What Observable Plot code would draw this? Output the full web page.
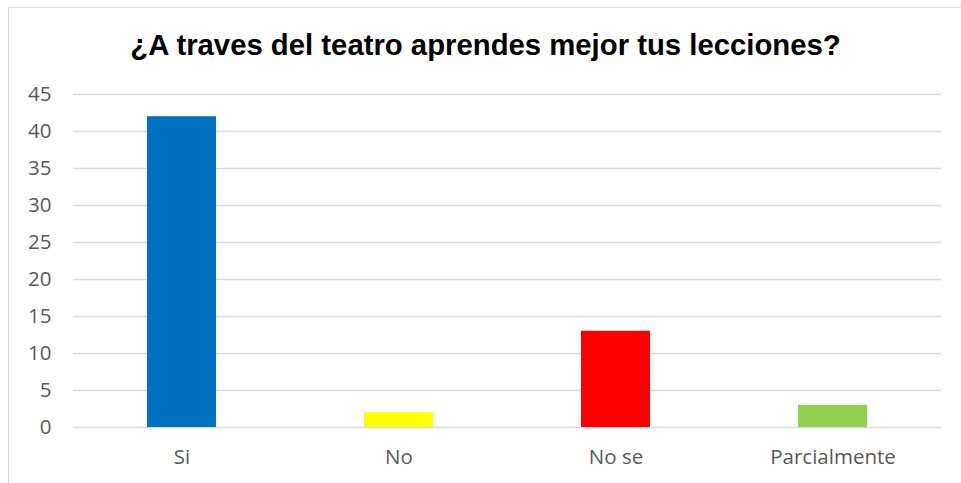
<!DOCTYPE html>
<html><head><meta charset="utf-8">
<script src="https://cdn.jsdelivr.net/npm/d3@7"></script>
<script src="https://cdn.jsdelivr.net/npm/@observablehq/plot@0.6"></script>
<style>
body{margin:0;background:#fff;}
#wrap{position:relative;width:961px;height:483px;overflow:hidden;}
#frame{position:absolute;left:8px;top:7px;width:980px;height:500px;border:1.5px solid #d9d9d9;box-sizing:border-box;}
#title{position:absolute;left:0;top:0;width:961px;height:80px;text-align:center;font-family:"Liberation Sans",Arial,sans-serif;font-weight:bold;font-size:29.3px;line-height:90px;color:#000;margin:0;padding-left:10px;box-sizing:border-box;white-space:nowrap;}
#chart{position:absolute;left:0;top:80px;}
</style></head>
<body>
<div id="wrap"><div id="frame"></div><div id="title">¿A traves del teatro aprendes mejor tus lecciones?</div><div id="chart"></div></div>
<script>
const categories = ["Si", "No", "No se", "Parcialmente"];
const values = [42, 2, 13, 3];
const colors = ["#0070C0", "#FFFF00", "#FF0000", "#92D050"];
const yTicks = [0, 5, 10, 15, 20, 25, 30, 35, 40, 45];

const data = categories.map((c, i) => ({cat: c, value: values[i], color: colors[i]}));

const chart = Plot.plot({
  width: 961,
  height: 403,
  marginLeft: 73,
  marginRight: 20,
  marginTop: 14,
  marginBottom: 56,
  style: {fontFamily: "'Open Sans', 'Liberation Sans', sans-serif", fontSize: "20.5px", color: "#595959", background: "transparent"},
  x: {domain: categories, paddingInner: 0.682, paddingOuter: 0.341, label: null, tickSize: 0, tickPadding: 22},
  y: {domain: [0, 45], ticks: yTicks, label: null, tickSize: 0, tickPadding: 22},
  marks: [
    Plot.ruleY(yTicks, {stroke: "#d9d9d9", strokeWidth: 1.5}),
    Plot.barY(data, {x: "cat", y: "value", fill: "color"}),
    Plot.axisY({ticks: yTicks, tickSize: 0, tickPadding: 22, label: null, fill: "#595959"}),
    Plot.axisX({tickSize: 0, tickPadding: 22, label: null, fill: "#595959"})
  ]
});
document.getElementById("chart").appendChild(chart);
</script>
</body></html>
